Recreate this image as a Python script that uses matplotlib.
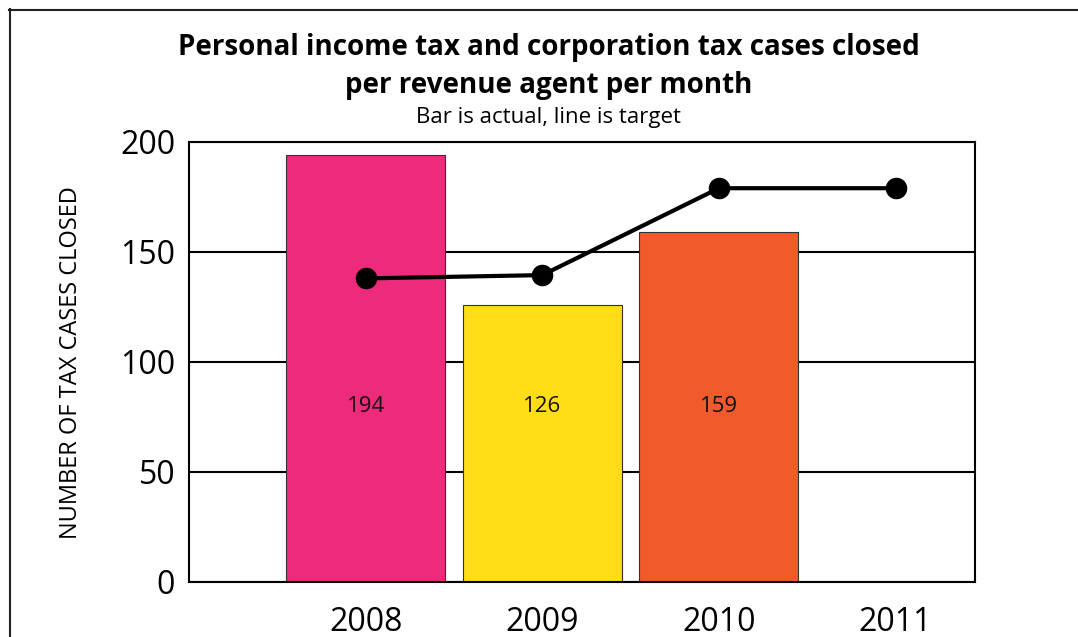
import matplotlib
matplotlib.use("Agg")
import matplotlib.pyplot as plt
from matplotlib.lines import Line2D

plt.rcParams["font.family"] = ["Open Sans", "DejaVu Sans"]

# Data
years = ["2008", "2009", "2010", "2011"]
actual = [194, 126, 159]          # bars: actual cases closed
target = [138, 139.5, 179, 179]   # line: target
bar_colors = ["#EE2A7B", "#FFDD17", "#F15A2B"]
yticks = [0, 50, 100, 150, 200]

W, H = 1078, 637
fig = plt.figure(figsize=(W / 100, H / 100), dpi=100)
fig.patch.set_facecolor("white")

ax = fig.add_axes([189 / W, 1 - 582 / H, (975 - 189) / W, (582 - 142) / H])

xpos = list(range(len(years)))
ax.bar(range(len(actual)), actual, width=0.9, color=bar_colors,
       edgecolor="#333333", linewidth=0.8, zorder=2)
ax.plot(xpos, target, color="black", lw=3, marker="o", ms=14.5,
        solid_capstyle="round", zorder=3)

for i, v in enumerate(actual):
    ax.text(i, 80, str(v), ha="center", va="center", fontsize=16,
            color="#111111", zorder=4)

ax.set_xlim(-1.0, 3.45)
ax.set_ylim(0, 200)
ax.set_yticks(yticks)
ax.set_xticks(xpos)
ax.set_xticklabels(years)
ax.yaxis.grid(True, color="black", lw=1.5)
ax.set_axisbelow(True)
ax.tick_params(axis="both", length=0, labelsize=23, colors="black")
ax.tick_params(axis="x", pad=17)
ax.tick_params(axis="y", pad=10)
for s in ax.spines.values():
    s.set_linewidth(1.5)
    s.set_color("black")

fig.text(71 / W, 1 - 363 / H, "NUMBER OF TAX CASES CLOSED", rotation=90,
         ha="center", va="center", fontsize=17)

# Titles
fig.text(549 / W, 1 - 47 / H,
         "Personal income tax and corporation tax cases closed",
         ha="center", va="center", fontsize=20, fontweight="bold")
fig.text(549 / W, 1 - 85 / H, "per revenue agent per month",
         ha="center", va="center", fontsize=20, fontweight="bold")
fig.text(549 / W, 1 - 118 / H, "Bar is actual, line is target",
         ha="center", va="center", fontsize=16)

# Outer frame (left and top edges)
fig.add_artist(Line2D([9.5 / W, 9.5 / W], [0, 1 - 9 / H],
                      transform=fig.transFigure, color="#222222", lw=1.5))
fig.add_artist(Line2D([9 / W, 1], [1 - 9.5 / H, 1 - 9.5 / H],
                      transform=fig.transFigure, color="#222222", lw=1.5))

fig.savefig("out.png", dpi=100)
